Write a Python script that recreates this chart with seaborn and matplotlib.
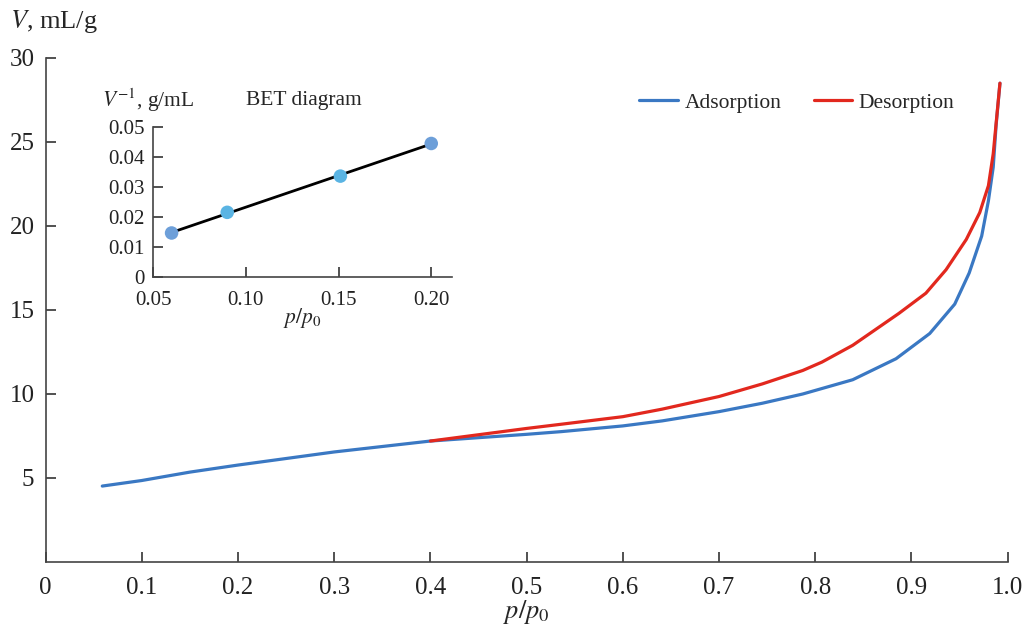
import numpy as np
import pandas as pd
import matplotlib
matplotlib.use('Agg')
import matplotlib.pyplot as plt
import seaborn as sns

sns.set_style('ticks')
plt.rcParams['font.family'] = ['Liberation Serif', 'DejaVu Serif']
plt.rcParams['mathtext.fontset'] = 'stix'

# %% Data read off the isotherm
ads_p = [0.059, 0.1, 0.15, 0.2, 0.3, 0.4, 0.5, 0.536, 0.6, 0.641, 0.7, 0.745, 0.787,
         0.839, 0.884, 0.919, 0.945, 0.96, 0.973, 0.98, 0.985, 0.988, 0.992]
ads_v = [4.52, 4.85, 5.35, 5.77, 6.55, 7.2, 7.6, 7.76, 8.1, 8.4, 8.95, 9.45, 10.0,
         10.85, 12.1, 13.6, 15.35, 17.2, 19.4, 21.5, 23.5, 26.0, 28.5]
des_p = [0.4, 0.5, 0.536, 0.6, 0.641, 0.7, 0.745, 0.787, 0.807, 0.839, 0.887, 0.915,
         0.936, 0.957, 0.971, 0.98, 0.985, 0.992]
des_v = [7.2, 7.95, 8.2, 8.65, 9.1, 9.85, 10.6, 11.4, 11.9, 12.9, 14.8, 16.0,
         17.4, 19.2, 20.8, 22.4, 24.3, 28.5]

# BET points
bet_p = [0.06, 0.09, 0.151, 0.2]
bet_inv_v = [0.0147, 0.0216, 0.0337, 0.0446]
bet_colors = ['#6d9fd9', '#5ab4e3', '#5ab4e3', '#6d9fd9']

iso = pd.concat([
    pd.DataFrame({'p': ads_p, 'V': ads_v, 'branch': 'Adsorption'}),
    pd.DataFrame({'p': des_p, 'V': des_v, 'branch': 'Desorption'}),
])

# %% Main plot
fig = plt.figure(figsize=(10.23, 6.25), dpi=100)
ax = fig.add_axes([0.0445, 0.1008, 0.9405, 0.8064])
sns.lineplot(data=iso, x='p', y='V', hue='branch', sort=False, estimator=None,
             palette={'Adsorption': '#3a78c3', 'Desorption': '#e2281e'},
             linewidth=2.3, ax=ax)
ax.set_xlim(0, 1.0)
ax.set_ylim(0, 30)
ax.set_xticks(np.arange(0, 1.01, 0.1))
ax.set_xticklabels(['0'] + ['%.1f' % t for t in np.arange(0.1, 1.01, 0.1)])
ax.set_yticks([5, 10, 15, 20, 25, 30])
ax.tick_params(direction='in', labelsize=18, length=7, width=1.2, colors='#333333',
               labelcolor='#222222')
ax.tick_params(axis='x', pad=11)
ax.tick_params(axis='y', pad=8)
for s in ['top', 'right']:
    ax.spines[s].set_visible(False)
for s in ['left', 'bottom']:
    ax.spines[s].set_color('#444444')
    ax.spines[s].set_linewidth(1.2)
ax.set_xlabel('$p/p_0$', fontsize=19, labelpad=-1)
ax.set_ylabel('')
fig.text(0.010, 0.965, '$V$, mL/g', fontsize=19, va='center', ha='left')
leg = ax.legend(loc='upper right', bbox_to_anchor=(0.965, 0.97), ncol=2, frameon=False,
                fontsize=15.5, handlelength=1.8, columnspacing=1.5, handletextpad=0.3)

# %% BET inset
ins = fig.add_axes([0.1496, 0.5568, 0.2919, 0.2395])
sns.regplot(x=bet_p, y=bet_inv_v, ci=None, scatter=False, ax=ins,
            line_kws={'color': 'black', 'linewidth': 2})
sns.scatterplot(x=bet_p, y=bet_inv_v, color=bet_colors, s=95, edgecolor='none',
                zorder=3, ax=ins)
ins.set_xlim(0.05, 0.211)
ins.set_ylim(0, 0.05)
ins.set_xticks([0.05, 0.10, 0.15, 0.20])
ins.set_xticklabels(['0.05', '0.10', '0.15', '0.20'])
ins.set_yticks([0, 0.01, 0.02, 0.03, 0.04, 0.05])
ins.set_yticklabels(['0', '0.01', '0.02', '0.03', '0.04', '0.05'])
ins.tick_params(direction='in', labelsize=15, length=7, width=1.2, colors='#333333',
                labelcolor='#222222')
ins.tick_params(axis='x', pad=10)
ins.tick_params(axis='y', pad=6)
for s in ['top', 'right']:
    ins.spines[s].set_visible(False)
for s in ['left', 'bottom']:
    ins.spines[s].set_color('#444444')
    ins.spines[s].set_linewidth(1.2)
ins.set_xlabel('$p/p_0$', fontsize=15.5, labelpad=-3)
ins.text(-0.17, 1.18, '$V^{-1}$, g/mL', transform=ins.transAxes, fontsize=15.5,
         ha='left', va='center')
ins.text(0.31, 1.18, 'BET diagram', transform=ins.transAxes, fontsize=15.5,
         ha='left', va='center')

fig.savefig('out.png', dpi=100)
